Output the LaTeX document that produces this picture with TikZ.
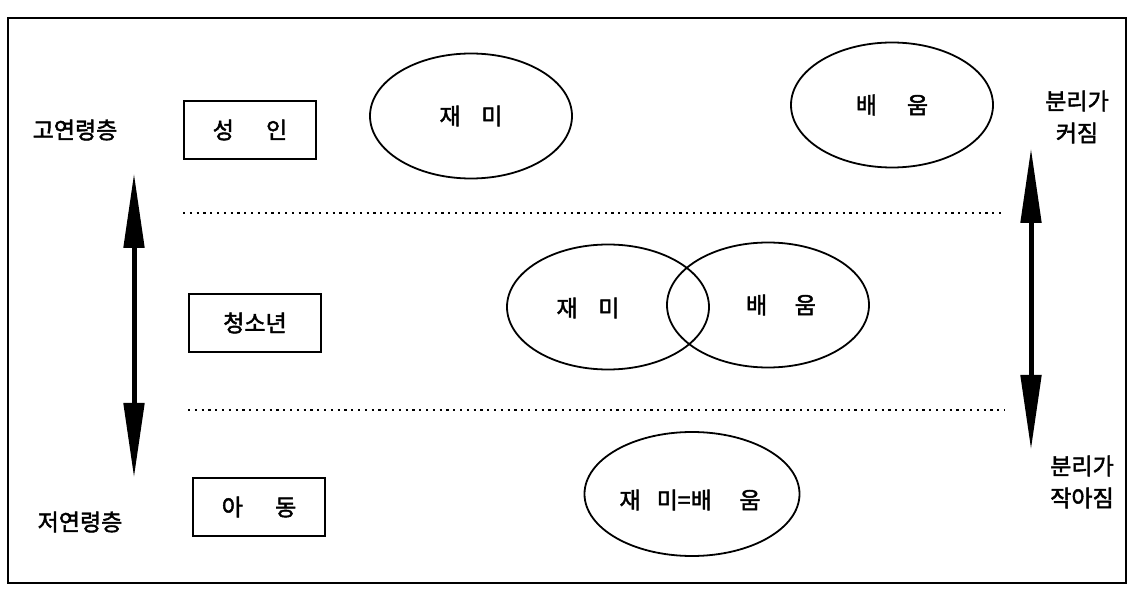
\documentclass[tikz,border=0pt]{standalone}
\usepackage{fontspec}
\newfontfamily\kr[FakeBold=2]{Noto Sans CJK KR}
\usetikzlibrary{arrows.meta,shapes.geometric}
\begin{document}
\begin{tikzpicture}[x=1pt,y=-1pt,
  font=\kr\fontsize{23}{32}\selectfont,
  lab/.style={inner sep=0pt, align=center},
  agebox/.style={draw, line width=2pt, minimum width=132pt, minimum height=58pt, inner sep=0pt},
  oval/.style={draw, ellipse, line width=1.8pt, inner sep=0pt, minimum width=202pt, minimum height=125pt},
  sepline/.style={line width=2pt, dash pattern=on 2.2pt off 4.6pt},
  bigarrow/.style={line width=5pt, {Triangle[length=75pt,width=20pt]}-{Triangle[length=75pt,width=20pt]}}]
\useasboundingbox (0,0) rectangle (1133,601);
\draw[line width=1.3pt] (8,18) rectangle (1126,583);

% left labels
\node[lab] (old) at (75,130) {고연령층};
\node[lab] (young) at (80,522) {저연령층};

% age boxes
\node[agebox] (adult) at (250,130) {성\hspace{1.4em}인};
\node[agebox] (teen) at (255,323) {청소년};
\node[agebox] (child) at (259,507) {아\hspace{1.4em}동};

% ellipses
\node[oval] (funA) at (471,116) {재\hspace{0.9em}미};
\node[oval] (learnA) at (892,105) {배\hspace{1.3em}움};
\node[oval] (funT) at (608,307) {};
\node[oval] (learnT) at (768,305) {};
\node[lab] (funTt) at (588,308) {재\hspace{0.9em}미};
\node[lab] (learnTt) at (781,305) {배\hspace{1.2em}움};
\node[oval, minimum width=215pt, minimum height=124pt] (same) at (692,494) {};
\node[lab] (sameT) at (690,500) {재\hspace{0.7em}미=배\hspace{1.2em}움};

% dotted separators
\coordinate (s1a) at (183,213);
\coordinate (s1b) at (1001,213);
\coordinate (s2a) at (188,410);
\coordinate (s2b) at (1005,410);
\draw[sepline] (s1a) -- (s1b);
\draw[sepline] (s2a) -- (s2b);

% arrows
\coordinate (la1) at (134,173);
\coordinate (la2) at (134,478);
\coordinate (ra1) at (1031,148);
\coordinate (ra2) at (1031,450);
\draw[bigarrow] (la1) -- (la2);
\draw[bigarrow] (ra1) -- (ra2);

% right labels
\node[lab] (bigger) at (1077,117) {분리가\\커짐};
\node[lab] (smaller) at (1082,482) {분리가\\작아짐};
\end{tikzpicture}
\end{document}
